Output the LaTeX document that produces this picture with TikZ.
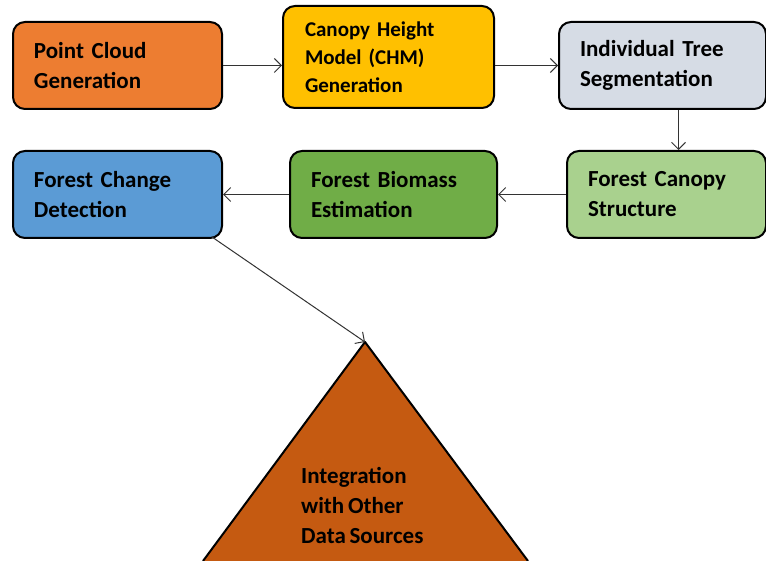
\documentclass[tikz,border=0pt]{standalone}
\usepackage{fontspec}
\setmainfont{Carlito}
\usetikzlibrary{arrows.meta}
\definecolor{cOrange}{HTML}{ED7D31}
\definecolor{cYellow}{HTML}{FFC000}
\definecolor{cGrey}{HTML}{D6DCE5}
\definecolor{cLGreen}{HTML}{A9D18E}
\definecolor{cGreen}{HTML}{70AD47}
\definecolor{cBlue}{HTML}{5B9BD5}
\definecolor{cRust}{HTML}{C55A11}
\newcommand{\lblfont}[2]{\bfseries\fontsize{#1}{#2}\selectfont\spaceskip=0.16em plus 0.02em\relax}
\tikzset{
  box/.style={draw=black, line width=2pt, rounded corners=12pt, anchor=north west,
    inner xsep=21pt, inner ysep=0pt, align=left, minimum height=87pt,
    font=\lblfont{23}{30}},
  conn/.style={draw=black!80, line width=1pt, -{Straight Barb[length=7pt,width=14pt]}}
}
\begin{document}
\begin{tikzpicture}[x=1pt,y=-1pt]
\useasboundingbox (0,0) rectangle (766,561);
\node[box, fill=cOrange, text width=167pt] (pc) at (12,21) {Point Cloud\\Generation};
\node[box, fill=cYellow, text width=167pt, minimum height=102pt, inner xsep=22pt, font=\lblfont{21}{28}] (chm) at (282,5) {Canopy Height\\Model (CHM)\\Generation};
\node[box, fill=cGrey, text width=165pt] (its) at (558,21) {Individual Tree\\Segmentation};
\node[box, fill=cLGreen, text width=157pt] (fcs) at (566,150) {Forest Canopy\\Structure};
\node[box, fill=cGreen, text width=165pt] (fbe) at (289,150) {Forest Biomass\\Estimation};
\node[box, fill=cBlue, text width=167pt] (fcd) at (12,150) {Forest Change\\Detection};
\coordinate (apex) at (365,342);
\coordinate (bl) at (203,561);
\coordinate (br) at (528,561);
\fill[cRust] (apex) -- (bl) -- (br) -- cycle;
\draw[line width=2pt, line join=round] (bl) -- (apex) -- (br);
\node[anchor=west, align=left, inner sep=0pt, font=\lblfont{23}{30}] (tri) at (301,505) {Integration\\with Other\\Data Sources};
\draw[conn] (pc.east) -- (chm.west |- pc.east);
\draw[conn] (chm.east |- its.west) -- (its.west);
\draw[conn] ([xshift=16pt]its.south) -- ([xshift=16pt]fcs.north -| its.south);
\draw[conn] (fcs.west) -- (fbe.east);
\draw[conn] (fbe.west) -- (fcd.east);
\draw[conn] (212,237) -- (apex);
\end{tikzpicture}
\end{document}
